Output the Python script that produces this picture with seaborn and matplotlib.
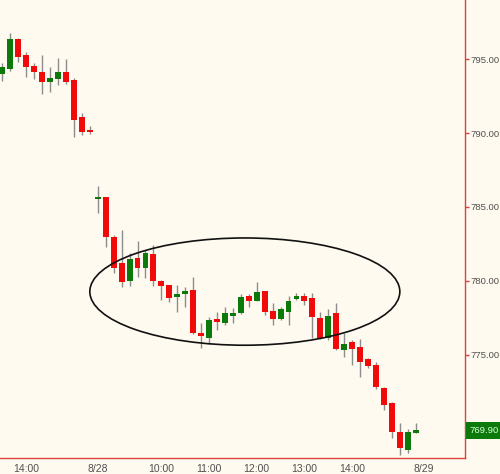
import matplotlib
matplotlib.use("Agg")
import matplotlib.pyplot as plt
from matplotlib.patches import Ellipse
import seaborn as sns
import numpy as np

# 10-minute candles, index 0..52 (8/27 afternoon, then 8/28 session)
opens = [793.97, 794.32, 796.35, 795.27, 794.55, 794.14, 793.43, 793.65, 794.12, 793.58,
         791.08, 790.10,
         785.55, 785.66, 782.99, 781.20, 780.00, 781.57, 780.90, 781.80, 780.00, 779.71,
         778.90, 779.10, 779.39, 776.51, 776.17, 777.43, 777.18, 777.66, 777.82, 778.99,
         778.67, 779.32, 777.97, 777.41, 777.93, 778.76, 779.01, 778.83, 777.52, 776.13,
         777.82, 775.34, 775.90, 775.52, 774.71, 774.32, 772.79, 771.74, 769.82, 768.58,
         769.75]
highs = [794.71, 796.76, 796.44, 795.45, 794.75, 795.27, 794.48, 795.09, 794.98, 793.74,
         791.33, 790.49,
         786.42, 785.70, 783.11, 783.45, 781.87, 782.70, 782.09, 782.43, 780.07, 779.73,
         779.73, 779.61, 780.25, 777.14, 777.59, 777.93, 778.26, 778.16, 779.12, 779.12,
         779.95, 779.35, 778.51, 778.26, 778.99, 779.21, 779.17, 779.21, 777.93, 778.09,
         778.53, 776.47, 776.01, 776.06, 774.78, 774.55, 772.86, 771.85, 770.43, 770.00,
         770.40]
lows = [793.51, 794.19, 794.82, 793.76, 793.63, 792.61, 792.79, 793.24, 793.29, 789.75,
        789.86, 789.91,
        784.57, 782.32, 780.52, 779.57, 779.66, 780.29, 780.18, 779.66, 778.72, 778.60,
        777.93, 778.26, 776.40, 775.45, 775.74, 776.69, 777.03, 777.14, 777.78, 778.26,
        778.62, 777.70, 777.03, 777.36, 777.03, 778.72, 778.38, 776.13, 776.10, 776.01,
        775.34, 774.89, 774.32, 773.53, 774.10, 772.68, 771.28, 769.37, 768.24, 768.40,
        769.75]
closes = [794.44, 796.35, 795.11, 794.48, 794.10, 793.43, 793.70, 794.12, 793.47, 790.88,
          790.05, 790.05,
          785.60, 782.95, 780.86, 779.95, 781.49, 780.90, 781.87, 780.00, 779.66, 778.83,
          779.12, 779.32, 776.47, 776.30, 777.36, 777.25, 777.82, 777.86, 778.90, 778.67,
          779.28, 777.89, 777.41, 778.11, 778.67, 779.01, 778.67, 777.59, 776.13, 777.66,
          775.39, 775.74, 775.39, 774.55, 774.26, 772.82, 771.62, 769.82, 768.70, 769.82,
          769.90]

tick_pos = [3, 9, 12, 20, 26, 32, 38, 44, 50, 53]
tick_labels = ["14:00", "", "8/28", "10:00", "11:00", "12:00", "13:00", "14:00", "", "8/29"]
y_ticks = [775, 780, 785, 790, 795]
last_price = 769.90

sns.set_style("white")
plt.rcParams["font.family"] = ["Liberation Sans", "DejaVu Sans"]

bg = "#fffaf0"
up_col = "#0b7a0b"
down_col = "#f00a0a"
axis_col = "#e0403a"

fig = plt.figure(figsize=(5, 4.74), dpi=100, facecolor=bg)
ax = fig.add_axes([0.0, 0.034, 0.93, 0.966], facecolor=bg)

idx = np.arange(len(opens))
o = np.array(opens)
c = np.array(closes)
up = c >= o
colors = np.where(up, up_col, down_col)

# wicks
ax.vlines(idx, lows, highs, color="#8c8c8c", lw=1, zorder=1)
# bodies
bottoms = np.minimum(o, c)
heights = np.maximum(np.abs(c - o), 0.12)
ax.bar(idx, heights, bottom=bottoms, width=0.74, color=colors, edgecolor="none", zorder=2)

# hand-drawn ellipse annotation
ax.add_patch(Ellipse((30.5, 779.28), width=39.0, height=7.25, fill=False,
                     edgecolor="#111111", lw=1.2, zorder=3))

ax.set_xlim(-0.3, 58.2)
ax.set_ylim(768.04, 798.99)

ax.yaxis.tick_right()
ax.set_yticks(y_ticks)
ax.set_yticklabels([f"{v:.2f}" for v in y_ticks])
ax.set_xticks(tick_pos)
ax.set_xticklabels(tick_labels)
ax.tick_params(axis="both", colors=axis_col, labelcolor="#505050",
               length=3, width=1, direction="out")
ax.tick_params(axis="y", pad=1, labelsize=6.8)
ax.tick_params(axis="x", pad=1.5, labelsize=7.5)

for s in ["top", "left"]:
    ax.spines[s].set_visible(False)
for s in ["right", "bottom"]:
    ax.spines[s].set_visible(True)
    ax.spines[s].set_color(axis_col)
    ax.spines[s].set_linewidth(1)

# last price tag
ax.annotate(f"{last_price:.2f}", xy=(1.0, last_price), xycoords=("axes fraction", "data"),
            xytext=(3.5, 0), textcoords="offset points", va="center", ha="left",
            fontsize=6.8, color="#d8ffd8",
            bbox=dict(boxstyle="square,pad=0.4", fc=up_col, ec="none"),
            annotation_clip=False)

fig.savefig("out.png", dpi=100, facecolor=bg)
